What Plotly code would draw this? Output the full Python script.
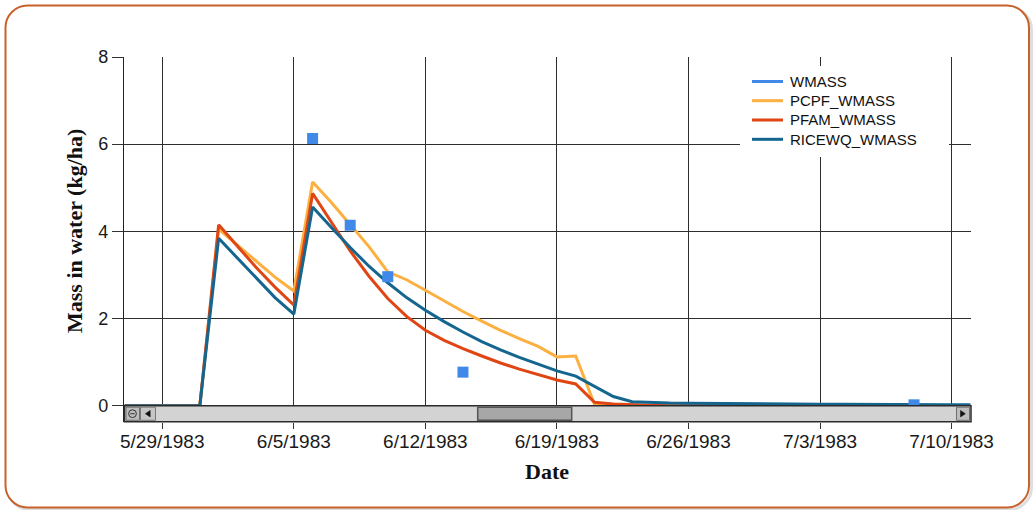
import pandas as pd
import plotly.graph_objects as go

# ---------------- data ----------------
dates = pd.date_range("1983-05-27", "1983-07-11", freq="D")

pcpf_wmass = [0, 0, 0, 0, 0,
              4.05, 3.68, 3.30, 2.95, 2.63,
              5.13, 4.66, 4.16, 3.65, 3.07, 2.89, 2.65,
              2.40, 2.16, 1.94, 1.73, 1.54, 1.36, 1.12, 1.14,
              0.03, 0.01, 0, 0, 0, 0, 0, 0, 0, 0, 0, 0, 0, 0, 0, 0, 0, 0, 0, 0, 0]

pfam_wmass = [0, 0, 0, 0, 0,
              4.15, 3.66, 3.17, 2.72, 2.31,
              4.87, 4.22, 3.55, 2.97, 2.46, 2.05, 1.73,
              1.50, 1.31, 1.14, 0.98, 0.84, 0.71, 0.59, 0.50,
              0.08, 0.04, 0.02, 0.01, 0, 0, 0, 0, 0, 0, 0, 0, 0, 0, 0, 0, 0, 0, 0, 0, 0]

ricewq_wmass = [0, 0, 0, 0, 0,
                3.84, 3.38, 2.93, 2.48, 2.10,
                4.56, 4.09, 3.63, 3.20, 2.82, 2.48, 2.19,
                1.93, 1.69, 1.47, 1.28, 1.11, 0.95, 0.80, 0.68,
                0.44, 0.21, 0.09, 0.07, 0.06, 0.055, 0.05, 0.05, 0.045, 0.045,
                0.04, 0.04, 0.035, 0.035, 0.03, 0.03, 0.03, 0.025, 0.025, 0.02, 0.02]

obs_dates = ["1983-06-06", "1983-06-08", "1983-06-10", "1983-06-14", "1983-07-08"]
obs_wmass = [6.13, 4.14, 2.96, 0.77, 0.02]

tick_dates = ["1983-05-29", "1983-06-05", "1983-06-12", "1983-06-19",
              "1983-06-26", "1983-07-03", "1983-07-10"]
tick_labels = ["5/29/1983", "6/5/1983", "6/12/1983", "6/19/1983",
               "6/26/1983", "7/3/1983", "7/10/1983"]
y_ticks = [0, 2, 4, 6, 8]

series_names = ["WMASS", "PCPF_WMASS", "PFAM_WMASS", "RICEWQ_WMASS"]
series_colors = ["#4189e8", "#fbb040", "#e04614", "#15668f"]

# ---------------- geometry helpers (pixels -> paper) ----------------
W, H = 1034, 510
L, R, T, B = 124, 971, 57, 422
PW, PH = R - L, B - T


def px(x):
    return (x - L) / PW


def py(y):
    return (B - y) / PH


def pt(x, y):
    return f"{px(x):.5f},{py(y):.5f}"


def poly(points):
    s = "M " + pt(*points[0])
    for p in points[1:]:
        s += " L " + pt(*p)
    return s + " Z"


fig = go.Figure()

fig.add_trace(go.Scatter(x=dates, y=pcpf_wmass, mode="lines", name=series_names[1],
                         line=dict(color=series_colors[1], width=3), showlegend=False))
fig.add_trace(go.Scatter(x=dates, y=pfam_wmass, mode="lines", name=series_names[2],
                         line=dict(color=series_colors[2], width=3), showlegend=False))
fig.add_trace(go.Scatter(x=dates, y=ricewq_wmass, mode="lines", name=series_names[3],
                         line=dict(color=series_colors[3], width=3), showlegend=False))
fig.add_trace(go.Scatter(x=pd.to_datetime(obs_dates), y=obs_wmass, mode="markers", name=series_names[0],
                         marker=dict(symbol="square", size=11, color=series_colors[0],
                                     line=dict(width=0)), showlegend=False))

shapes = []


def rounded(x0, y0, x1, y1, r):
    k = 0.55 * r
    return (f"M {pt(x0 + r, y0)} L {pt(x1 - r, y0)} "
            f"C {pt(x1 - r + k, y0)} {pt(x1, y0 + r - k)} {pt(x1, y0 + r)} "
            f"L {pt(x1, y1 - r)} "
            f"C {pt(x1, y1 - r + k)} {pt(x1 - r + k, y1)} {pt(x1 - r, y1)} "
            f"L {pt(x0 + r, y1)} "
            f"C {pt(x0 + r - k, y1)} {pt(x0, y1 - r + k)} {pt(x0, y1 - r)} "
            f"L {pt(x0, y0 + r)} "
            f"C {pt(x0, y0 + r - k)} {pt(x0 + r - k, y0)} {pt(x0 + r, y0)} Z")


# outer rounded frame (soft shadow + border)
shapes.append(dict(type="path", xref="paper", yref="paper", layer="below",
                   path=rounded(7.5, 7.5, 1031.5, 509.5, 22),
                   line=dict(color="#dedede", width=3), fillcolor="rgba(0,0,0,0)"))
shapes.append(dict(type="path", xref="paper", yref="paper", layer="below",
                   path=rounded(5.5, 5.5, 1029, 507.5, 22),
                   line=dict(color="#c8622c", width=2), fillcolor="white"))


def rect(x0, y0, x1, y1, fill, lc, lw):
    return dict(type="rect", xref="paper", yref="paper", layer="above",
                x0=px(x0), x1=px(x1), y0=py(y1), y1=py(y0),
                fillcolor=fill, line=dict(color=lc, width=lw))


# scrollbar
shapes.append(rect(124.5, 405.7, 971, 421.7, "#d3d3d3", "#2b2b2b", 1.5))
shapes.append(rect(126, 407.2, 139.5, 420.3, "#bdbdbd", "#6e6e6e", 1))
shapes.append(dict(type="circle", xref="paper", yref="paper", layer="above",
                   x0=px(128.6), x1=px(136.4), y0=py(417.6), y1=py(409.8),
                   line=dict(color="#333", width=1), fillcolor="rgba(0,0,0,0)"))
shapes.append(dict(type="line", xref="paper", yref="paper", layer="above",
                   x0=px(130.3), x1=px(134.7), y0=py(413.7), y1=py(413.7),
                   line=dict(color="#333", width=1)))
shapes.append(rect(140.5, 407.2, 155.5, 420.3, "#c6c6c6", "#7a7a7a", 1))
shapes.append(dict(type="path", xref="paper", yref="paper", layer="above",
                   path=poly([(145.3, 413.7), (150.2, 410.4), (150.2, 417.0)]),
                   fillcolor="#111", line=dict(color="#111", width=0.5)))
shapes.append(rect(477.7, 407.2, 571.7, 420.3, "#a7a7a7", "#555555", 1.5))
shapes.append(rect(956.5, 407.2, 969.5, 420.3, "#bdbdbd", "#6e6e6e", 1))
shapes.append(dict(type="path", xref="paper", yref="paper", layer="above",
                   path=poly([(965.4, 413.7), (960.5, 410.4), (960.5, 417.0)]),
                   fillcolor="#111", line=dict(color="#111", width=0.5)))

# legend (drawn manually to match the compact spacing)
shapes.append(rect(740, 66, 949, 157, "white", "rgba(0,0,0,0)", 0))
leg_y = [81.5, 100.7, 120.0, 139.3]
annotations = []
for name, col, yy in zip(series_names, series_colors, leg_y):
    shapes.append(dict(type="line", xref="paper", yref="paper", layer="above",
                       x0=px(752), x1=px(783), y0=py(yy), y1=py(yy),
                       line=dict(color=col, width=3)))
    annotations.append(dict(xref="paper", yref="paper", x=px(788), y=py(yy),
                            xanchor="left", yanchor="middle", showarrow=False,
                            text=name, font=dict(family="Liberation Sans, Arial", size=15, color="#111")))

# axis titles
annotations.append(dict(xref="paper", yref="paper", x=px(547), y=py(471),
                        xanchor="center", yanchor="middle", showarrow=False, text="<b>Date</b>",
                        font=dict(family="Liberation Serif, Times New Roman", size=22, color="#111")))
annotations.append(dict(xref="paper", yref="paper", x=px(74), y=py(231),
                        xanchor="center", yanchor="middle", showarrow=False, textangle=-90,
                        text="<b>Mass in water (kg/ha)</b>",
                        font=dict(family="Liberation Serif, Times New Roman", size=22, color="#111")))

ymin = -(B - 405.7) / ((405.7 - T) / 8)

fig.update_layout(
    width=W, height=H,
    margin=dict(l=L, r=W - R, t=T, b=H - B, pad=0),
    paper_bgcolor="white", plot_bgcolor="white",
    showlegend=False,
    shapes=shapes, annotations=annotations,
    font=dict(family="Liberation Sans, Arial", size=18, color="#222"),
    xaxis=dict(
        type="date",
        range=["1983-05-26 23:10", "1983-07-11 00:45"],
        tickvals=tick_dates, ticktext=tick_labels,
        ticks="outside", ticklen=6, tickcolor="#333", tickwidth=1,
        ticklabelstandoff=-4,
        showgrid=True, gridcolor="#2e2e2e", gridwidth=1,
        showline=False, zeroline=False,
        tickfont=dict(family="Liberation Sans, Arial", size=19, color="#1a1a1a"),
    ),
    yaxis=dict(
        range=[ymin, 8],
        tickvals=y_ticks,
        ticks="outside", ticklen=11, tickcolor="#333", tickwidth=1,
        showgrid=True, gridcolor="#2e2e2e", gridwidth=1,
        showline=True, linecolor="#222", linewidth=1.2,
        zeroline=False,
        tickfont=dict(family="Liberation Sans, Arial", size=18, color="#1a1a1a"),
    ),
)

fig.write_html("out.html", config={"displayModeBar": False},
               post_script="document.body.style.margin='0';document.body.style.overflow='hidden';")
